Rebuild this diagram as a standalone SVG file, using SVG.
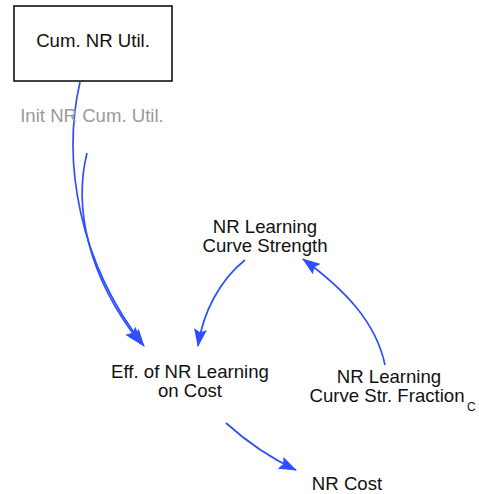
<svg xmlns="http://www.w3.org/2000/svg" width="479" height="494" viewBox="0 0 479 494">
  <defs>
    <marker id="arrow" viewBox="0 0 18 13" refX="17" refY="6.5" markerWidth="18" markerHeight="13" markerUnits="userSpaceOnUse" orient="auto">
      <path d="M0,0 L18,6.5 L0,13 L3,6.5 Z" fill="#2f4fff"/>
    </marker>
    <style>
      text { font-family: "Liberation Sans", Arial, sans-serif; font-size: 18.6px; fill: #111; }
      .ghost { fill: #9a9a9a; }
      .small { font-size: 12px; }
      .link { fill: none; stroke: #2f4fff; stroke-width: 1.7; marker-end: url(#arrow); }
    </style>
  </defs>
  <rect width="479" height="494" fill="#ffffff"/>

  <g id="connectors">
    <path class="link" d="M80,82 C62,160 78,262 144,346"/>
    <path class="link" d="M87,153 C74,205 86,275 141,344"/>
    <path class="link" d="M245,260 C220,280 203,312 198,346"/>
    <path class="link" d="M385,365 C376,322 345,290 303,259"/>
    <path class="link" d="M226,423 C246,441 266,456 296,470"/>
  </g>

  <g id="cum-nr-util">
    <rect x="14" y="6" width="158" height="75" fill="#ffffff" stroke="#111" stroke-width="1.6"/>
    <text x="93" y="47" text-anchor="middle">Cum. NR Util.</text>
  </g>

  <g id="init-nr-cum-util">
    <text x="92" y="122" text-anchor="middle" class="ghost">Init NR Cum. Util.</text>
  </g>

  <g id="nr-learning-curve-strength">
    <text x="265" y="233" text-anchor="middle">NR Learning</text>
    <text x="265" y="252" text-anchor="middle">Curve Strength</text>
  </g>

  <g id="eff-of-nr-learning-on-cost">
    <text x="190" y="378" text-anchor="middle">Eff. of NR Learning</text>
    <text x="190" y="397" text-anchor="middle">on Cost</text>
  </g>

  <g id="nr-learning-curve-str-fraction">
    <text x="389" y="383" text-anchor="middle">NR Learning</text>
    <text x="387" y="402" text-anchor="middle">Curve Str. Fraction</text>
    <text x="467" y="411" class="small">C</text>
  </g>

  <g id="nr-cost">
    <text x="347" y="490" text-anchor="middle">NR Cost</text>
  </g>
</svg>
